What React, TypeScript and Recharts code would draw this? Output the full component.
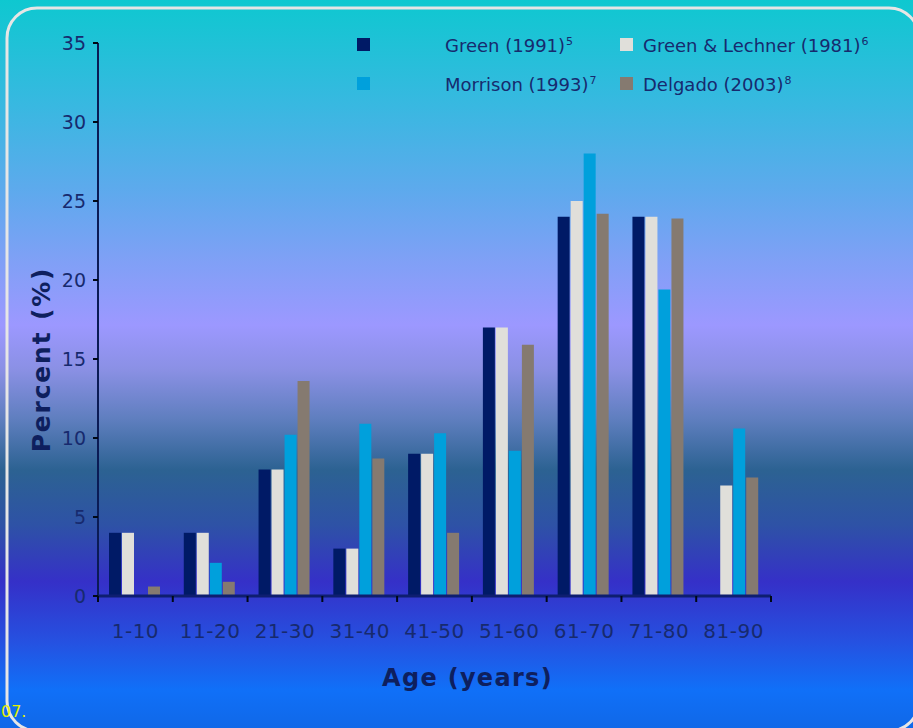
import React from 'react';
import { BarChart, Bar, XAxis, YAxis, Legend, Label } from 'recharts';

// Age groups and percentage of cases per study
const ageGroups = ['1-10', '11-20', '21-30', '31-40', '41-50', '51-60', '61-70', '71-80', '81-90'];
const green1991 = [4, 4, 8, 3, 9, 17, 24, 24, null];
const greenLechner1981 = [4, 4, 8, 3, 9, 17, 25, 24, 7];
const morrison1993 = [null, 2.1, 10.2, 10.9, 10.3, 9.2, 28, 19.4, 10.6];
const delgado2003 = [0.6, 0.9, 13.6, 8.7, 4, 15.9, 24.2, 23.9, 7.5];
const percentTicks = [0, 5, 10, 15, 20, 25, 30, 35];

const series = [
  { key: 'green1991', name: 'Green (1991)', note: '5', color: '#001A66' },
  { key: 'greenLechner1981', name: 'Green & Lechner (1981)', note: '6', color: '#E0DFDA' },
  { key: 'morrison1993', name: 'Morrison (1993)', note: '7', color: '#00A0DC' },
  { key: 'delgado2003', name: 'Delgado (2003)', note: '8', color: '#857A70' },
];

const chartData = ageGroups.map((age, i) => ({
  age,
  green1991: green1991[i],
  greenLechner1981: greenLechner1981[i],
  morrison1993: morrison1993[i],
  delgado2003: delgado2003[i],
}));

const FONT = '"DejaVu Sans", Verdana, sans-serif';
const TEXT = '#172A6E';
const TITLE = '#0E1F5E';

// Legend laid out as a 2 x 2 grid
const legendSlots = [
  { sx: 357, tx: 445, y: 45 },
  { sx: 620, tx: 643, y: 45 },
  { sx: 357, tx: 445, y: 84 },
  { sx: 620, tx: 643, y: 84 },
];

const StudyLegend = () => (
  <div style={{ position: 'relative', width: 913, height: 110 }}>
    {series.map((s, i) => {
      const slot = legendSlots[i];
      return (
        <React.Fragment key={s.key}>
          <div
            style={{
              position: 'absolute',
              left: slot.sx,
              top: slot.y - 7,
              width: 13,
              height: 13,
              background: s.color,
            }}
          />
          <div
            style={{
              position: 'absolute',
              left: slot.tx,
              top: slot.y - 11,
              fontFamily: FONT,
              fontSize: 18,
              lineHeight: '24px',
              color: TEXT,
              whiteSpace: 'nowrap',
            }}
          >
            {s.name}
            <span style={{ fontSize: 11, position: 'relative', top: -7, marginLeft: 1 }}>{s.note}</span>
          </div>
        </React.Fragment>
      );
    })}
  </div>
);

// Category label centred in the band, with tick marks on the band edges
const AgeTick = (props: any) => {
  const { x, y, payload, index, visibleTicksCount } = props;
  const half = payload && typeof payload.offset === 'number' && payload.offset > 0 ? payload.offset : 673 / 9 / 2;
  const last = (visibleTicksCount ?? ageGroups.length) - 1;
  return (
    <g>
      <line x1={x - half} x2={x - half} y1={y} y2={y + 6} stroke="#000814" strokeWidth={2} />
      {index === last && (
        <line x1={x + half} x2={x + half} y1={y} y2={y + 6} stroke="#000814" strokeWidth={2} />
      )}
      <text
        x={x}
        y={y + 42}
        textAnchor="middle"
        fontFamily={FONT}
        fontSize={20}
        letterSpacing={0.5}
        fill={TEXT}
      >
        {payload.value}
      </text>
    </g>
  );
};

const PercentTitle = (props: any) => {
  const { viewBox } = props;
  const cx = viewBox.x + 41;
  const cy = viewBox.y + viewBox.height / 2 + 40;
  return (
    <text
      x={cx}
      y={cy}
      transform={`rotate(-90 ${cx} ${cy})`}
      textAnchor="middle"
      dominantBaseline="central"
      fontFamily={FONT}
      fontWeight="bold"
      fontSize={25}
      letterSpacing={1.8}
      fill={TITLE}
    >
      Percent (%)
    </text>
  );
};

const AgeTitle = (props: any) => {
  const { viewBox } = props;
  return (
    <text
      x={viewBox.x + viewBox.width / 2 + 33}
      y={686}
      textAnchor="middle"
      fontFamily={FONT}
      fontWeight="bold"
      fontSize={24}
      letterSpacing={1.3}
      fill={TITLE}
    >
      Age (years)
    </text>
  );
};

export default function App() {
  return (
    <div
      style={{
        position: 'absolute',
        left: 0,
        top: 0,
        width: 913,
        height: 728,
        overflow: 'hidden',
        background:
          'linear-gradient(to bottom, #0EC8D0 0px, #36B9E0 100px, #62A8EE 200px, #80A0F6 262px, #9C98FF 325px, #8A90E4 370px, #5E7EBE 420px, #2C6292 470px, #2E52A6 525px, #3530C8 582px, #2650E0 640px, #1070F8 690px, #1068E8 728px)',
      }}
    >
      <BarChart
        width={913}
        height={728}
        data={chartData}
        margin={{ top: 43, right: 142, left: 0, bottom: 0 }}
        barCategoryGap={11}
        barGap={1}
      >
        <XAxis
          dataKey="age"
          height={132}
          interval={0}
          tickLine={false}
          tickSize={0}
          tickMargin={0}
          axisLine={{ stroke: '#0E1E70', strokeWidth: 3 }}
          tick={<AgeTick />}
        >
          <Label content={<AgeTitle />} />
        </XAxis>
        <YAxis
          width={98}
          domain={[0, 35]}
          ticks={percentTicks}
          interval={0}
          tickSize={5}
          tickMargin={7}
          axisLine={{ stroke: '#0B1B55', strokeWidth: 2 }}
          tickLine={{ stroke: '#000814', strokeWidth: 2 }}
          tick={{ fill: TEXT, fontSize: 19, fontFamily: FONT }}
        >
          <Label content={<PercentTitle />} />
        </YAxis>
        <Legend
          layout="horizontal"
          verticalAlign="middle"
          align="center"
          wrapperStyle={{ position: 'absolute', left: 0, top: 0, width: 913, height: 110 }}
          content={<StudyLegend />}
        />
        {series.map((s) => (
          <Bar key={s.key} dataKey={s.key} name={s.name} fill={s.color} isAnimationActive={false} />
        ))}
      </BarChart>
      <svg
        width={913}
        height={728}
        style={{ position: 'absolute', left: 0, top: 0, pointerEvents: 'none' }}
      >
        <rect x={7} y={8} width={912} height={723} rx={30} ry={30} fill="none" stroke="#E6E6E6" strokeWidth={3} />
        <text x={1} y={717} textAnchor="start" fontFamily={FONT} fontSize={16} fill="#E4F000">
          07.
        </text>
      </svg>
    </div>
  );
}
